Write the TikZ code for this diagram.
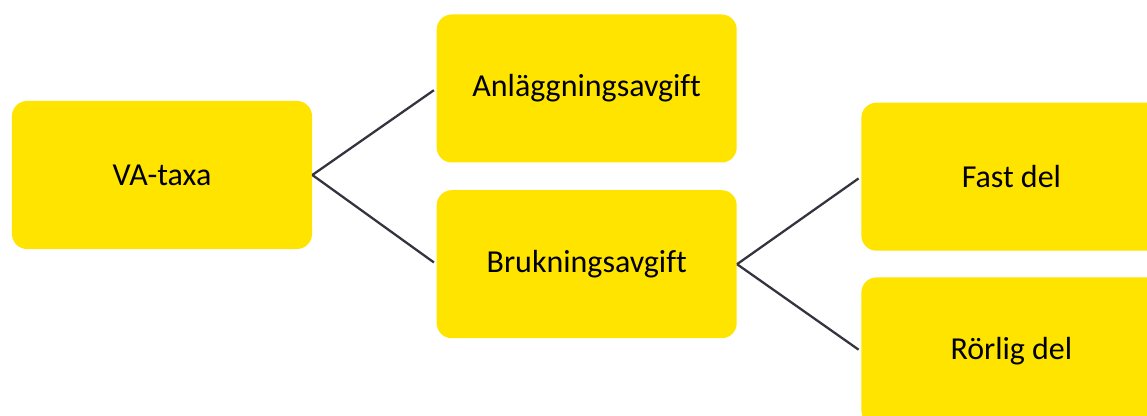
\documentclass[tikz,border=0pt]{standalone}
\usepackage{fontspec}
\setmainfont[Ligatures=NoCommon]{Carlito}
\usepackage{tikz}
\usetikzlibrary{positioning}
\definecolor{boxyellow}{HTML}{FFE400}
\definecolor{linegray}{HTML}{34343F}

\begin{document}
\begin{tikzpicture}[
  box/.style={rectangle,rounded corners=0.3cm,fill=boxyellow,minimum width=6cm,minimum height=2.96cm,inner sep=0pt,font=\fontsize{18.2}{22}\selectfont},
  link/.style={draw=linegray,line width=1.3pt,shorten >=1.7pt}]
\clip (-3.24,-4.82) rectangle (19.7,3.5);
\node[box](vataxa) at (0,0){VA-taxa};
\node[box,right=2.48cm of vataxa,yshift=1.73cm](anl){Anläggningsavgift};
\node[box,below=0.54cm of anl](bruk){Brukningsavgift};
\node[box,right=2.48cm of bruk,yshift=1.75cm](fast){Fast del};
\node[box,below=0.52cm of fast](rorlig){Rörlig del};
\draw[link] (vataxa.east) -- (anl.west);
\draw[link] (vataxa.east) -- (bruk.west);
\draw[link] (bruk.east) -- (fast.west);
\draw[link] (bruk.east) -- (rorlig.west);
\end{tikzpicture}
\end{document}
